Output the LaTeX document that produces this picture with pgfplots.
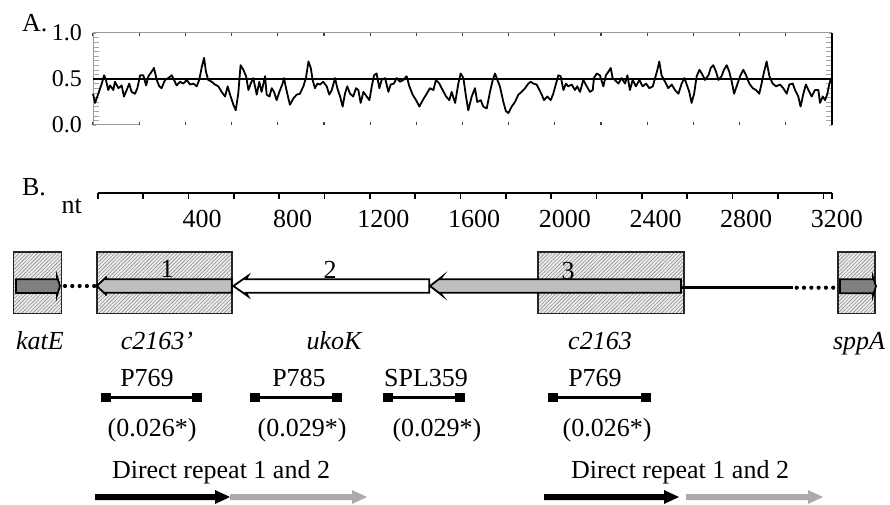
\documentclass[border=0pt]{standalone}
\usepackage{fontspec}
\setmainfont{Liberation Serif}
\usepackage{pgfplots}
\pgfplotsset{compat=1.18}
\usetikzlibrary{patterns.meta}
\newcommand{\mainf}{\fontsize{13}{15}\selectfont}
\newcommand{\tickf}{\fontsize{12}{14}\selectfont}
\begin{document}
\begin{tikzpicture}
\path[use as bounding box] (0,0) rectangle (445pt,252pt);
% ---------------- Panel A ----------------
\begin{axis}[at={(46.5pt,189.5pt)}, anchor=south west, scale only axis,
  width=369.5pt, height=46pt,
  xmin=0, xmax=3200, ymin=0, ymax=1,
  axis line style={draw=none},
  xtick={0,200,...,3200}, xticklabels={},
  ytick={0,0.5,1}, yticklabels={0.0,0.5,1.0},
  minor ytick={0.05,0.1,0.15,0.2,0.25,0.3,0.35,0.4,0.45,0.55,0.6,0.65,0.7,0.75,0.8,0.85,0.9,0.95},
  tick align=inside, major tick length=1.5pt, minor tick length=3pt,
  xtick style={black!75, line width=0.6pt}, ytick style={black!35},
  yticklabel style={font=\tickf, xshift=-2pt},
  clip=false]
\draw[black!40, line width=0.5pt] (rel axis cs:0,0) -- (rel axis cs:0,1) -- (rel axis cs:1,1);
\draw[black!40, line width=0.5pt] (rel axis cs:0,0) -- (axis cs:200,0);
\addplot[black, line width=0.9pt, line join=round] table {
x v
0 0.34
9 0.24
23 0.34
38 0.45
48 0.54
56 0.49
66 0.38
74 0.43
88 0.38
95 0.47
110 0.40
124 0.43
134 0.31
146 0.38
157 0.45
167 0.36
182 0.34
192 0.40
204 0.54
218 0.54
230 0.43
240 0.53
254 0.58
264 0.62
276 0.49
287 0.42
297 0.40
312 0.49
326 0.51
341 0.54
351 0.49
362 0.43
377 0.47
391 0.45
406 0.49
420 0.44
435 0.45
449 0.42
460 0.49
471 0.63
481 0.73
489 0.58
499 0.49
514 0.47
528 0.44
543 0.42
557 0.36
572 0.31
583 0.42
596 0.31
608 0.22
618 0.16
629 0.34
639 0.65
651 0.60
663 0.53
673 0.38
683 0.45
694 0.51
709 0.33
720 0.47
730 0.36
745 0.53
752 0.33
764 0.31
774 0.40
784 0.36
795 0.27
807 0.36
821 0.45
827 0.51
836 0.40
846 0.29
853 0.22
868 0.29
882 0.33
896 0.34
911 0.42
922 0.51
933 0.69
943 0.62
951 0.49
961 0.40
972 0.45
983 0.44
997 0.47
1012 0.42
1023 0.33
1034 0.38
1048 0.51
1058 0.40
1070 0.31
1081 0.20
1091 0.34
1101 0.42
1113 0.34
1127 0.31
1139 0.40
1149 0.38
1159 0.24
1171 0.36
1185 0.31
1197 0.27
1207 0.42
1217 0.54
1228 0.56
1240 0.40
1250 0.49
1265 0.51
1279 0.36
1289 0.44
1303 0.45
1315 0.51
1329 0.47
1344 0.49
1358 0.53
1370 0.42
1384 0.33
1399 0.27
1413 0.20
1428 0.27
1445 0.34
1459 0.40
1474 0.38
1485 0.49
1500 0.45
1514 0.38
1529 0.31
1543 0.27
1553 0.36
1568 0.24
1582 0.45
1592 0.56
1604 0.51
1614 0.33
1625 0.16
1640 0.31
1654 0.40
1664 0.25
1679 0.27
1690 0.20
1705 0.18
1719 0.36
1731 0.49
1741 0.56
1751 0.49
1762 0.42
1777 0.25
1788 0.15
1799 0.13
1813 0.20
1827 0.25
1842 0.33
1856 0.36
1871 0.40
1885 0.45
1895 0.47
1907 0.45
1921 0.44
1933 0.38
1943 0.33
1953 0.27
1967 0.31
1982 0.27
1993 0.34
2005 0.45
2015 0.54
2025 0.53
2037 0.38
2048 0.45
2058 0.42
2073 0.44
2087 0.38
2097 0.42
2109 0.36
2123 0.49
2138 0.42
2152 0.36
2164 0.38
2169 0.51
2181 0.56
2195 0.54
2210 0.42
2221 0.54
2232 0.58
2242 0.62
2250 0.51
2260 0.49
2275 0.45
2289 0.51
2304 0.45
2314 0.54
2325 0.38
2337 0.49
2351 0.42
2366 0.49
2380 0.42
2395 0.45
2409 0.40
2424 0.42
2434 0.51
2444 0.60
2452 0.69
2462 0.54
2477 0.47
2491 0.40
2506 0.44
2520 0.38
2535 0.34
2549 0.45
2561 0.51
2571 0.44
2582 0.36
2592 0.24
2603 0.34
2614 0.53
2626 0.60
2636 0.56
2650 0.49
2665 0.54
2675 0.62
2686 0.65
2698 0.58
2708 0.49
2722 0.53
2732 0.60
2744 0.65
2755 0.58
2766 0.47
2776 0.34
2787 0.42
2802 0.53
2816 0.60
2828 0.54
2842 0.45
2857 0.40
2871 0.38
2885 0.34
2895 0.45
2906 0.58
2917 0.69
2929 0.53
2943 0.45
2958 0.42
2975 0.44
2989 0.40
3004 0.34
3015 0.44
3030 0.45
3040 0.38
3054 0.31
3064 0.20
3076 0.34
3087 0.44
3098 0.38
3112 0.31
3126 0.38
3141 0.38
3148 0.24
3160 0.31
3170 0.27
3180 0.34
3188 0.44
3194 0.49
3199 0.50
};
\addplot[black, line width=1.2pt] coordinates {(0,0.5) (3200,0.5)};
\draw[black, line width=0.9pt] (rel axis cs:1,0) -- (rel axis cs:1,1);
\end{axis}
% ---------------- Panel B ----------------
\begin{axis}[at={(0pt,0pt)}, anchor=south west, scale only axis,
  width=445pt, height=252pt,
  xmin=-430.9, xmax=3494.1, ymin=0, ymax=504, y dir=reverse,
  axis lines=none, clip=false]
% panel letters
\node[font=\mainf, anchor=base west] at (axis cs:-364.7,31) {A.};
\node[font=\mainf, anchor=base west] at (axis cs:-364.7,195) {B.};
\node[font=\mainf, anchor=base] at (axis cs:-114.7,213.3) {nt};
% scale
\addplot[black, line width=0.8pt] coordinates {(0,193) (3237,193)};
\pgfplotsinvokeforeach{0,200,...,3200}{\draw[black, line width=0.8pt] (axis cs:#1,193) -- (axis cs:#1,199);}
\draw[black, line width=0.8pt] (axis cs:3237,193) -- (axis cs:3237,199);
\pgfplotsinvokeforeach{400,800,...,3200}{\node[font=\mainf, anchor=base] at (axis cs:#1+60,227.3) {#1};}
% hatched boxes
\addplot[draw=black!85, line width=0.8pt, fill=black!7,
  postaction={pattern={Lines[angle=45,distance=1.3pt,line width=0.3pt]}, pattern color=black!45}]
  coordinates {(-372.2,251.7) (-158.8,251.7) (-158.8,313.3) (-372.2,313.3)} --cycle;
\addplot[draw=black!85, line width=0.8pt, fill=black!7,
  postaction={pattern={Lines[angle=45,distance=1.3pt,line width=0.3pt]}, pattern color=black!45}]
  coordinates {(-4.4,251.7) (591,251.7) (591,313.3) (-4.4,313.3)} --cycle;
\addplot[draw=black!85, line width=0.8pt, fill=black!7,
  postaction={pattern={Lines[angle=45,distance=1.3pt,line width=0.3pt]}, pattern color=black!45}]
  coordinates {(1941.8,251.7) (2585.6,251.7) (2585.6,313.3) (1941.8,313.3)} --cycle;
\addplot[draw=black!85, line width=0.8pt, fill=black!7,
  postaction={pattern={Lines[angle=45,distance=1.3pt,line width=0.3pt]}, pattern color=black!45}]
  coordinates {(3263.5,251.7) (3428,251.7) (3428,313.3) (3263.5,313.3)} --cycle;
% connecting lines
\addplot[black, line width=2.1pt, line cap=round, dash pattern=on 0pt off 3.65pt]
  coordinates {(-144.2,286) (-11.9,286)};
\addplot[black, line width=1.4pt] coordinates {(2572.4,287.7) (3066.3,287.7)};
\addplot[black, line width=2.1pt, line cap=round, dash pattern=on 0pt off 3.65pt]
  coordinates {(3082.7,287.7) (3244.1,287.7)};
% gene arrows
\addplot[draw=black, line width=0.9pt, fill=black!50]
  coordinates {(-360.3,279.3) (-179.5,279.3) (-179.5,276.5) (-166.3,286) (-179.5,295.5) (-179.5,293) (-360.3,293)} --cycle;
\addplot[draw=black, line width=0.9pt, fill=black!25]
  coordinates {(-4.4,286) (39.7,276.7) (30,279.2) (591,279.2) (591,292.8) (30,292.8) (39.7,295.3)} --cycle;
\addplot[draw=black, line width=0.9pt, fill=white]
  coordinates {(598,286) (662.8,275.8) (654,279.2) (1462.4,279.2) (1462.4,292.8) (654,292.8) (662.8,296.2)} --cycle;
\addplot[draw=black, line width=0.9pt, fill=black!25]
  coordinates {(1465.5,286) (1518.4,276.7) (1509.6,279.2) (2572.4,279.2) (2572.4,292.8) (1509.6,292.8) (1518.4,295.3)} --cycle;
\addplot[draw=black, line width=0.9pt, fill=black!50]
  coordinates {(3273.6,279.3) (3419.1,279.3) (3419.1,277) (3432.4,286.3) (3419.1,295.5) (3419.1,293.3) (3273.6,293.3)} --cycle;
% numbers on genes
\node[font=\mainf, anchor=base] at (axis cs:305.6,277) {1};
\node[font=\mainf, anchor=base] at (axis cs:1024.5,278) {2};
\node[font=\mainf, anchor=base] at (axis cs:2074.1,279) {3};
% gene names
\node[font=\mainf\itshape, anchor=base] at (axis cs:-254.5,349) {katE};
\node[font=\mainf\itshape, anchor=base] at (axis cs:261.5,349) {c2163'};
\node[font=\mainf\itshape, anchor=base] at (axis cs:1042.1,349) {ukoK};
\node[font=\mainf\itshape, anchor=base] at (axis cs:2215.2,349) {c2163};
\node[font=\mainf\itshape, anchor=base] at (axis cs:3357.4,349) {sppA};
% probes
\node[font=\mainf, anchor=base] at (axis cs:217.4,386.7) {P769};
\node[font=\mainf, anchor=base] at (axis cs:887.7,386.7) {P785};
\node[font=\mainf, anchor=base] at (axis cs:1447.8,386.7) {SPL359};
\node[font=\mainf, anchor=base] at (axis cs:2193.2,386.7) {P769};
\addplot[black, line width=1.4pt, mark=square*, mark size=1.6pt] coordinates {(36.6,397.7) (437.9,397.7)};
\addplot[black, line width=1.4pt, mark=square*, mark size=1.6pt] coordinates {(693.7,397.7) (1055.3,397.7)};
\addplot[black, line width=1.4pt, mark=square*, mark size=1.6pt] coordinates {(1280.3,397.7) (1597.8,397.7)};
\addplot[black, line width=1.4pt, mark=square*, mark size=1.6pt] coordinates {(2007.9,397.7) (2418.1,397.7)};
\node[font=\mainf, anchor=base] at (axis cs:239.5,436.7) {(0.026*)};
\node[font=\mainf, anchor=base] at (axis cs:901,436.7) {(0.029*)};
\node[font=\mainf, anchor=base] at (axis cs:1496.3,436.7) {(0.029*)};
\node[font=\mainf, anchor=base] at (axis cs:2246.1,436.7) {(0.026*)};
% direct repeats
\node[font=\mainf, anchor=base] at (axis cs:543.8,478.3) {Direct repeat 1 and 2};
\node[font=\mainf, anchor=base] at (axis cs:2568,478.3) {Direct repeat 1 and 2};
\addplot[fill=black, draw=none] coordinates {(-11.9,494) (517.3,494) (517.3,490) (583.5,497) (517.3,504) (517.3,500) (-11.9,500)} --cycle;
\addplot[fill=black!33, draw=none] coordinates {(583.5,494) (1121.5,494) (1121.5,490) (1187.6,497) (1121.5,504) (1121.5,500) (583.5,500)} --cycle;
\addplot[fill=black, draw=none] coordinates {(1968.2,494) (2497.4,494) (2497.4,490) (2563.6,497) (2497.4,504) (2497.4,500) (1968.2,500)} --cycle;
\addplot[fill=black!33, draw=none] coordinates {(2594.5,494) (3132.5,494) (3132.5,490) (3198.6,497) (3132.5,504) (3132.5,500) (2594.5,500)} --cycle;
\end{axis}
\end{tikzpicture}
\end{document}
